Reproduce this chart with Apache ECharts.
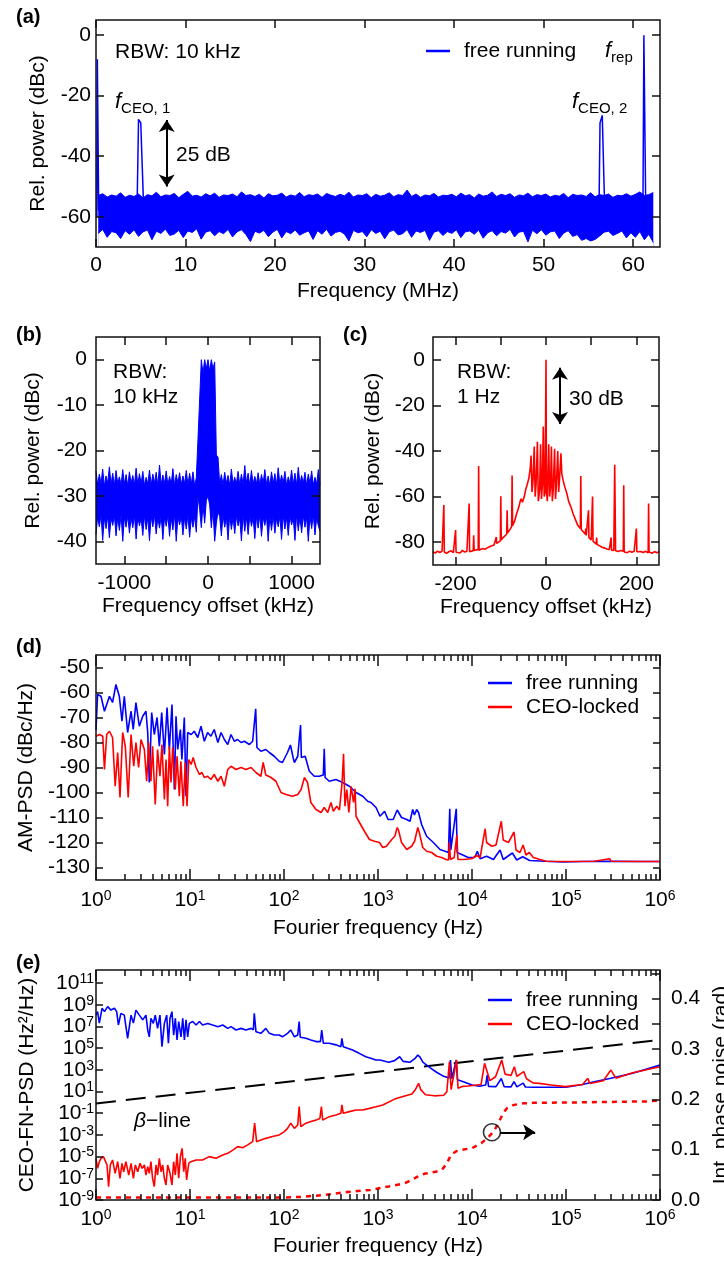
<!DOCTYPE html>
<html><head><meta charset="utf-8">
<script src="https://cdn.jsdelivr.net/npm/echarts@6/dist/echarts.min.js"></script>
<style>html,body{margin:0;padding:0;background:#fff}#c{width:724px;height:1262px}</style>
</head><body><div id="c"></div>
<script>
// ===================== DATA =====================
// (a) RF spectrum, free running (MHz, dBc). Noise floor sampled every 0.5 MHz from 0.25 MHz.
const A_X0 = 0.25, A_DX = 0.5;
const aNoiseTop = [
-53.0,-52.4,-53.5,-52.8,-53.2,-52.1,-53.6,-52.9,-53.3,-52.5,
-53.8,-52.7,-53.1,-51.9,-53.4,-52.8,-53.0,-52.3,-53.7,-52.6,
-51.6,-53.2,-52.9,-53.5,-52.4,-53.1,-52.2,-53.6,-52.8,-53.0,
-52.5,-53.4,-51.8,-53.0,-52.7,-53.3,-52.6,-53.8,-52.4,-53.1,
-52.9,-52.2,-53.5,-52.8,-53.2,-52.0,-53.4,-52.7,-53.0,-52.5,
-53.6,-52.3,-52.9,-53.3,-52.6,-53.1,-51.9,-53.5,-52.8,-53.0,
-52.4,-53.7,-52.6,-53.2,-52.9,-52.1,-53.4,-52.7,-53.0,-51.2,
-53.3,-52.5,-53.6,-52.8,-53.1,-52.3,-53.5,-52.9,-53.0,-52.6,
-53.4,-52.2,-53.1,-52.7,-53.8,-52.5,-53.2,-52.9,-51.8,-53.3,
-52.6,-53.0,-52.4,-53.6,-52.8,-53.1,-52.2,-53.4,-52.7,-53.0,
-52.5,-53.5,-52.9,-53.2,-52.3,-53.7,-52.6,-53.0,-52.8,-53.3,
-52.1,-53.4,-52.7,-53.0,-52.5,-53.6,-52.9,-53.1,-52.4,-53.2,
-52.6,-51.8,-53.0,-52.7,-52.0];
const aNoiseBot = [
-65.5,-64.2,-66.8,-64.9,-65.3,-67.2,-64.6,-65.8,-64.3,-66.5,
-65.0,-64.4,-67.6,-64.8,-65.5,-64.1,-66.2,-65.7,-64.5,-66.9,
-64.7,-65.2,-64.0,-67.4,-65.1,-64.6,-66.3,-64.9,-65.6,-64.2,
-66.7,-65.0,-64.3,-65.9,-68.2,-64.8,-65.4,-64.5,-66.6,-65.1,
-64.2,-67.0,-64.9,-65.6,-64.4,-66.1,-65.3,-64.7,-67.5,-64.6,
-65.8,-64.1,-66.4,-65.2,-64.8,-65.7,-68.0,-64.5,-65.3,-64.9,
-66.6,-64.3,-65.5,-64.8,-67.3,-65.0,-64.4,-66.0,-65.6,-64.2,
-66.8,-64.7,-65.2,-64.5,-67.8,-65.1,-64.6,-66.2,-64.9,-65.5,
-64.3,-66.9,-65.0,-64.7,-65.8,-64.4,-67.1,-65.3,-64.6,-66.3,
-64.9,-65.4,-64.2,-66.7,-65.1,-64.8,-68.3,-64.5,-65.6,-64.3,
-66.1,-65.0,-64.7,-67.2,-65.4,-64.6,-66.5,-65.9,-67.8,-67.2,
-68.0,-67.5,-66.4,-65.1,-64.8,-66.2,-65.5,-64.7,-67.0,-65.3,
-66.8,-64.9,-67.6,-65.8,-68.5];
const aDcX = [0.1, 0.15, 0.22, 0.3],            aDcY = [-60, -8, -8, -58];
const aCeo1X = [4.6, 4.75, 4.9, 5.0, 5.2, 5.3],  aCeo1Y = [-55, -27.8, -27.8, -29, -29, -55];
const aCeo2X = [56.2, 56.3, 56.45, 56.55, 56.7, 56.8], aCeo2Y = [-55, -29, -29, -26.5, -26.5, -55];
const aRepX = [61.1, 61.2, 61.3, 61.4],          aRepY = [-55, 0, 0, -55];
const aXTicks = [0, 10, 20, 30, 40, 50, 60];
const aYTicks = [-60, -40, -20, 0];
const aArrow = [7.9, -28, -50];   // x, y-start, y-end (25 dB marker)

// (b) beat note, 10 kHz RBW (kHz, dBc); sampled every 20 kHz from -1340 kHz
const B_X0 = -1340, B_DX = 20;
const bTop = [
-24.5,-27.6,-25.2,-27.3,-24.1,-27.8,-25.6,-27.2,-23.6,-27.5,
-25.0,-27.7,-24.4,-27.3,-25.8,-27.6,-24.2,-27.4,-25.3,-27.8,
-24.7,-27.2,-25.5,-27.6,-23.9,-27.5,-25.1,-27.3,-24.6,-27.7,
-25.9,-27.4,-24.3,-27.6,-25.2,-27.2,-24.8,-27.8,-23.2,-27.5,
-25.4,-27.3,-24.5,-27.6,-25.7,-27.4,-24.0,-27.7,-25.3,-27.2,
-24.9,-27.5,-25.6,-27.3,-24.4,-27.6,-25.0,-27.4,-24.7,-27.8,
-26.0,
-17.5,-17.8,0,-3,0,-2,0,-2.5,0,-2,-0.5,-21,-21.5,
-27.4,-25.3,-27.6,-24.8,-27.2,-25.5,-27.7,-24.1,-27.4,-25.9,
-27.3,-24.6,-27.6,-25.2,-27.5,-23.3,-27.2,-25.0,-27.7,-24.4,
-27.4,-25.7,-27.3,-24.9,-27.6,-25.3,-27.2,-24.2,-27.5,-25.6,
-27.8,-24.7,-27.3,-25.1,-27.6,-23.8,-27.4,-25.4,-27.2,-24.6,
-27.7,-25.8,-27.3,-24.3,-27.5,-25.0,-27.6,-23.7,-27.4,-25.5,
-27.2,-24.8,-27.7,-25.2,-27.3,-24.5,-27.6,-25.9,-27.4,-24.2,
-27.5];
const bBot = [
-38.5,-34.6,-36.8,-34.2,-39.8,-34.8,-37.2,-34.4,-39.2,-34.9,
-36.5,-34.3,-38.8,-34.7,-37.6,-34.1,-40.0,-34.6,-36.9,-34.4,
-38.2,-34.8,-37.0,-34.2,-39.5,-34.6,-36.6,-34.9,-38.7,-34.3,
-37.4,-34.7,-39.9,-34.5,-36.8,-34.2,-38.4,-34.8,-37.1,-34.4,
-39.6,-34.6,-36.7,-34.3,-38.9,-34.9,-37.5,-34.1,-40.0,-34.6,
-36.4,-34.4,-38.6,-34.7,-37.3,-34.2,-39.1,-34.8,-36.9,-34.5,
-38.0,
-30,-33,-37,-32,-36,-31,-30,-32,-37,-33,-40,-36,-33.5,
-34.6,-38.8,-34.3,-36.9,-34.7,-39.7,-34.2,-37.4,-34.8,-38.3,
-34.4,-36.6,-34.9,-39.9,-34.1,-37.8,-34.6,-38.5,-34.3,-36.7,
-34.8,-39.4,-34.5,-37.1,-34.2,-38.9,-34.7,-36.5,-34.4,-40.0,
-34.6,-37.6,-34.3,-38.2,-34.9,-36.8,-34.5,-39.6,-34.2,-37.3,
-34.7,-38.7,-34.4,-36.4,-34.8,-39.8,-34.1,-37.7,-34.6,-38.1,
-34.3,-36.9,-34.7,-40.0,-34.5,-37.2,-34.2,-38.6,-34.8,-36.6,
-37.8];
const bXTicks = [-1000, -500, 0, 500, 1000], bXLabels = [-1000, 0, 1000];
const bYTicks = [-40, -30, -20, -10, 0];

// (c) CEO-locked beat note, 1 Hz RBW (kHz, dBc)
const cX = [-250,-245,-240,-235,-230,-227,-226,-225,-220,-215,
-210,-205,-201,-200,-199,-195,-190,-185,-180,-175,
-171,-170,-169,-165,-161,-160,-159,-155,-150,-149,
-148,-145,-140,-135,-130,-125,-120,-115,-111,-110,
-109,-105,-101,-100,-99,-95,-91,-87,-86,-85,
-80,-76,-75,-74,-70,-65,-60,-57,-55,-52,
-48,-45,-42,-38,-35,-33,-31,-29,-26,-24,
-22,-19,-17,-14,-12,-10,-8,-6,-4,-2,
0,1,3,6,8,10,12,14,16,19,
21,23,26,28,30,33,35,38,42,46,
50,55,60,65,70,76,77,78,83,87,
88,89,93,94,95,100,102,103,104,108,
111,112,113,118,124,130,135,140,143,144,
145,150,152,154,160,165,171,172,173,180,
185,190,195,199,200,201,205,210,215,220,
226,227,228,235,240,245,250];
const cY = [-84.2,-84.8,-83.9,-84.5,-84.0,-84.6,-63.7,-84.3,-84.9,-84.2,
-83.8,-84.6,-84.1,-74.7,-84.4,-84.0,-84.7,-83.6,-84.3,-84.0,
-83.8,-63.0,-84.2,-83.5,-83.7,-77.0,-83.6,-83.9,-83.2,-46.6,
-83.5,-83.4,-82.8,-83.1,-82.5,-82.0,-81.6,-81.2,-80.8,-77.7,
-80.5,-80.0,-79.4,-59.8,-79.0,-78.0,-77.5,-76.5,-66.0,-76.0,
-74.5,-73.2,-50.8,-72.8,-71.0,-67.5,-64.5,-62.0,-61.0,-62.5,
-60.0,-57.0,-55.0,-52.0,-48.0,-42.0,-58.0,-54.0,-38.0,-60.0,
-55.0,-36.0,-62.0,-57.0,-37.0,-61.0,-55.0,-29.3,-60.0,-58.0,
0,-58.0,-62.0,-37.0,-60.0,-56.0,-38.0,-62.0,-57.0,-39.0,
-61.0,-55.0,-40.0,-58.0,-52.0,-41.0,-50.0,-53.0,-56.0,-58.5,
-62.0,-64.5,-67.5,-70.0,-72.5,-74.0,-51.0,-74.5,-75.5,-76.5,
-74.0,-77.0,-77.5,-66.0,-78.0,-79.0,-79.2,-60.0,-79.5,-80.3,
-80.8,-78.0,-81.0,-81.5,-82.2,-82.6,-83.0,-83.3,-83.4,-78.0,
-83.5,-83.6,-46.0,-83.7,-84.1,-83.6,-84.0,-55.0,-84.3,-84.6,
-83.9,-84.4,-84.0,-84.5,-74.0,-84.2,-84.8,-84.1,-84.5,-84.0,
-84.6,-63.0,-84.3,-84.8,-84.1,-84.6,-84.2];
const cXTicks = [-200, -100, 0, 100, 200], cXLabels = [-200, 0, 200];
const cYTicks = [-80, -60, -40, -20, 0];
const cArrow = [31, -3.5, -28.2];

// (d) AM-PSD (Hz, dBc/Hz)
const dBlueF = [1,1.04,1.13,1.23,1.39,1.5,1.63,1.77,1.89,2.0,
2.17,2.36,2.49,2.66,2.89,3.14,3.4,3.55,3.69,3.91,
4.17,4.46,4.72,5.0,5.34,5.7,6.03,6.43,6.82,7.1,
7.4,7.9,8.2,8.7,9.07,9.45,10.3,11.1,12.1,13.1,
14.2,15.4,16.7,18.1,19.8,21.4,23.2,25.2,27.3,29.6,
32.1,34.9,37.9,42.8,46.4,48.3,50,51.5,56.8,64.1,
69.8,78.7,88.9,96.3,109,117,125,129,140,147,
150,153,168,186,210,237,262,268,274,303,
357,420,496,584,688,777,842,953,1050,1175,
1280,1450,1600,1680,1780,2020,2190,2340,2440,2580,
2700,2910,3290,3880,4570,5160,5620,5800,5950,6220,
6800,6950,7760,9120,10700,11400,12200,14300,16900,19900,
21500,26900,29900,34600,41000,60000,93000,150000,300000,600000,
1000000];
const dBlue = [-75,-60.8,-61.5,-67.5,-61.5,-64,-56.8,-61.5,-71.5,-61.5,
-76,-67.5,-74.8,-64,-73.5,-69.5,-67.5,-76,-96,-68,
-76.8,-70,-81.5,-68,-84.8,-66,-82.8,-64.8,-98.8,-69.5,
-82.8,-74.8,-86.8,-70,-101.5,-76,-76.8,-75.5,-78,-73.5,
-79.5,-76,-77.5,-74.8,-80,-76,-78.8,-80.8,-76.8,-79.5,
-78.8,-80,-79.5,-80.8,-79.5,-80,-66.5,-82,-83.5,-82.8,
-84,-85.5,-87.5,-88,-84,-81,-86,-88,-85.5,-85,
-73,-86,-85.5,-91.5,-93.5,-93.5,-93,-82.5,-94,-95.5,
-94.8,-96,-97.5,-100,-101.5,-103.5,-104,-106,-109.5,-107.5,
-110.8,-110.8,-107,-106.8,-110,-110.8,-111.5,-106.8,-109,-106.8,
-108,-112.8,-117.5,-120,-122.8,-123.5,-124,-106.5,-123,-122.8,
-106.5,-124,-124.8,-126,-126,-123.5,-126.5,-125.5,-126.8,-123,
-126.8,-124.2,-127,-125.7,-127.2,-127.5,-127.8,-127.6,-127.5,-127.6,
-127.6];
const dRedF = [1,1.09,1.18,1.23,1.3,1.39,1.5,1.6,1.7,1.8,
1.92,2.05,2.2,2.36,2.52,2.66,2.84,3.01,3.27,3.46,
3.63,3.84,4.0,4.27,4.52,4.79,5.03,5.34,5.56,5.79,
6.03,6.28,6.55,6.98,7.28,7.7,8.0,8.48,8.9,9.3,
9.7,10.3,10.8,11.6,12.6,13.4,14.2,15.4,16.7,18.1,
19.8,21.4,23.2,25.2,27.3,30.9,34.9,39.4,44.6,50.3,
56.8,60,64,72.8,82,92.9,105,123,140,152,
165,178,193,219,248,268,292,316,335,364,
389,415,430,445,466,490,518,549,570,584,
635,717,811,917,1038,1123,1230,1400,1510,1600,
1650,1780,2020,2280,2450,2650,2750,2990,3290,3720,
4210,4750,5290,5620,5750,5890,6460,6900,7080,8070,
9900,11200,12200,13800,14300,16200,18000,20500,21500,24400,
28000,29400,32400,35000,37500,40700,44900,52800,62000,93000,
200000,293000,300000,600000,1000000];
const dRed = [-77.5,-76.8,-77.5,-90.8,-76.8,-75.5,-78,-97.5,-84,-102,
-76,-81.5,-102,-76.8,-89.5,-80,-90,-78.8,-82.8,-95.5,
-80,-95.5,-81.5,-104.8,-82.8,-93.5,-80.8,-102.8,-86.8,-105.5,
-81.5,-96,-82,-98.8,-85.5,-101.5,-87.5,-105.5,-88,-105.5,
-86.8,-88.8,-86,-90,-92.8,-92,-94,-93.5,-94.8,-92.8,
-95.5,-93.5,-97.5,-90.8,-89.5,-90.8,-90,-90.8,-90,-92,
-93.5,-88,-93,-94,-95.5,-100,-100.8,-101.5,-100.8,-98.8,
-94,-96,-104,-106.8,-108,-106,-108,-104,-107.5,-105.5,
-107,-96,-84.5,-105.5,-98.8,-108,-97.5,-104,-98.5,-109.5,
-112,-115.5,-118.8,-119.5,-120,-122,-121.5,-118.8,-117.5,-114,
-115,-120,-122.8,-121.5,-119.5,-114,-116,-122,-123.5,-124,
-125.5,-126,-126.8,-127,-120,-126.8,-126,-117,-126.8,-126.8,
-126.5,-125.2,-126,-114.5,-120,-121.5,-121,-111.5,-119,-120,
-115.8,-123,-124,-121,-125,-124,-126,-126.8,-127.5,-127.6,
-127.5,-126.5,-127.5,-127.6,-127.6];
const dYTicks = [-130, -120, -110, -100, -90, -80, -70, -60, -50];

// (e) CEO frequency-noise PSD (Hz, Hz^2/Hz) and integrated phase noise (rad)
const eBlueF = [1,1.04,1.085,1.16,1.23,1.33,1.44,1.57,1.66,1.73,
1.84,2.0,2.17,2.36,2.5,2.66,2.89,3.14,3.4,3.55,
3.69,3.84,4.07,4.27,4.52,4.79,5.03,5.34,5.65,5.89,
6.13,6.43,6.7,6.98,7.28,7.58,8.03,8.37,8.72,9.07,
9.45,9.84,10.7,11.6,12.6,13.6,15.4,17.4,19.8,22.3,
25.2,27.3,30.9,34.9,39.4,44.6,47.2,48.3,50.3,56.8,
64.1,69.8,78.7,88.9,96.3,109,118,129,140,143,
145,149,171,193,219,244,252,262,303,357,
403,413,427,475,536,631,742,839,948,1050,
1300,1500,1700,1850,2200,2500,2650,2800,3000,3600,
4200,5000,5700,5900,6100,6800,7000,8100,10000,12000,
14000,14500,15000,18000,20500,22000,26000,28000,30000,35000,
37000,45000,60000,100000,150000,200000,300000,500000,1000000];
const eBlue = [1.1e8,2.3e8,2e7,4.7e8,2.3e8,6.6e8,3.2e8,4.7e8,2.3e8,1.35e7,
1.6e8,1.1e8,8e5,1.1e8,2e7,3.2e8,1.1e8,4e7,1.1e8,4.7e6,
1.1e6,5.6e7,1.9e7,1.1e8,6.6e6,1.1e8,1.35e5,1.9e7,1.1e8,2.8e5,
5.6e7,2.3e8,1.6e6,5.6e7,5.6e5,2.8e7,1.1e6,5.6e7,5.6e5,4e7,
1.1e6,1.9e7,2.8e7,1.35e7,2.8e7,1.35e7,1.9e7,1.35e7,9.5e6,1.35e7,
6.6e6,9.5e6,4.7e6,6.6e6,4.7e6,6.6e6,5e6,1.6e8,3.3e6,2.3e6,
6.6e6,2.3e6,1.6e6,1.6e6,1.1e6,2.3e6,4.7e6,1.1e6,1.6e6,1.6e6,
2.8e7,1e6,8e5,5.6e5,4e5,4e5,4.7e6,2.8e5,2.8e5,2e5,
1.35e5,8e5,1.35e5,9.5e4,6.8e4,3.3e4,1.6e4,1.15e4,8e3,8e3,
5e3,7e3,1.6e4,6e3,5e3,1.2e4,2.3e4,1.5e4,5e3,1.5e3,
600,250,180,8e3,150,8e3,120,80,40,30,
40,330,30,28,160,28,27,80,27,60,
26,25,25,25,45,80,170,450,2700];
const eRedF = [1,1.04,1.085,1.13,1.2,1.26,1.31,1.36,1.42,1.5,
1.6,1.7,1.8,1.89,1.97,2.08,2.23,2.36,2.5,2.62,
2.78,2.94,3.09,3.27,3.4,3.55,3.69,3.84,4.0,4.17,
4.35,4.52,4.72,4.92,5.12,5.34,5.56,5.79,6.13,6.43,
6.7,6.98,7.28,7.58,7.9,8.24,8.58,8.9,9.2,9.7,
10.2,11.6,13.6,16.0,18.9,22.3,25.2,28.5,32.1,36.3,
41.1,46.4,48.7,51.1,56.8,64.1,75.5,88.9,101,109,
118,129,140,145,151,171,193,219,241,250,
258,303,357,403,413,427,496,584,688,811,
953,1123,1500,1800,2300,2500,2700,2850,3200,4000,
5000,5400,5750,6000,6850,7100,8000,9100,12500,13600,
15500,17800,20700,22500,26000,28200,30000,35500,38000,45000,
52000,69000,98000,150000,170000,180000,250000,300000,340000,500000,
1000000];
const eRed = [7e-6,8.3e-7,3.4e-6,7e-6,1e-5,7e-6,1.7e-6,1.7e-8,1.7e-6,4.9e-6,
2.9e-7,3.4e-6,1e-7,2.4e-6,4e-7,3.4e-6,2e-7,2.4e-6,1e-7,1.7e-6,
4e-7,2.4e-6,8.3e-7,1.7e-6,2e-7,1.2e-6,2.9e-7,3.4e-6,1e-7,1.7e-8,
1.7e-6,2e-7,7e-6,4e-7,1.7e-6,1e-7,2.4e-8,1.7e-6,2.9e-7,2.4e-8,
3.4e-6,2e-7,2e-5,1e-7,1e-5,5.8e-5,4e-7,7e-6,7e-8,2.4e-6,
3.4e-6,4.9e-6,4.9e-6,1e-5,7e-6,1.4e-5,2e-5,4e-5,8.3e-5,6.6e-5,
1.2e-4,2.4e-4,1.2e-2,2.4e-4,3.4e-4,4.8e-4,7e-4,1e-3,2e-3,4e-3,
1.2e-2,4e-3,8.3e-3,0.4,5.8e-3,1.2e-2,1.7e-2,2.3e-2,3.3e-2,0.4,
2.3e-2,4.8e-2,6.9e-2,9.8e-2,0.58,9.8e-2,0.14,0.2,0.2,0.28,
0.4,0.58,2,3.3,6,15,56,15,5,4,
4.5,9.5,5600,15,8000,20,30,32,45,4000,
100,230,8000,400,300,1950,250,680,150,60,
56,40,28,45,160,55,100,950,170,500,
1900];
const eBetaF = [1, 1000000], eBeta = [0.8, 5.6e5];
const eIntF = [1,10,50,100,150,270,470,830,1300,1900,2300,2600,3100,4100,4800,5400,6000,6800,7900,10000,12600,15100,17000,19000,21400,23400,28000,35000,45000,138000,760000,1000000];
const eInt = [0.005,0.005,0.005,0.005,0.006,0.01,0.016,0.02,0.027,0.033,0.04,0.046,0.052,0.056,0.06,0.073,0.09,0.097,0.1,0.103,0.113,0.126,0.136,0.152,0.172,0.182,0.189,0.192,0.193,0.194,0.196,0.198];
const eYExpLabels = [-9, -7, -5, -3, -1, 1, 3, 5, 7, 9, 11];
const eRightTicks = [0, 0.05, 0.1, 0.15, 0.2, 0.25, 0.3, 0.35, 0.4, 0.45];
const eRightLabels = [0, 0.1, 0.2, 0.3, 0.4];
const eMarker = [1.63e4, 0.1346];
const eArrow = [2.0e4, 4.7e4, 0.1346];
const decadeLabels = [0, 1, 2, 3, 4, 5, 6];

// ===================== BUILD =====================
const FONT = '"Liberation Sans", Arial, Helvetica, sans-serif';
const FS = 21;
const BLUE = '#0000ff', RED = '#ff0000', INK = '#111111';
const TICK = { color: INK, width: 1.5 };
const minorDecTicks = [];
for (let n = 0; n < 6; n++) for (let k = 2; k <= 9; k++) minorDecTicks.push(n + Math.log10(k));
const aX = aNoiseTop.map((_, i) => A_X0 + i * A_DX);
const bX = bTop.map((_, i) => B_X0 + i * B_DX);
const SUP = {
  b: { fontFamily: FONT, fontSize: FS, lineHeight: 22, color: '#000' },
  s: { fontFamily: FONT, fontSize: 14, lineHeight: 8, verticalAlign: 'top', color: '#000' }
};
const supFmt = v => '{b|10}{s|' + v + '}';

function vAxis(o) {
  const ax = {
    type: 'value', gridIndex: o.g, position: o.pos, min: o.min, max: o.max,
    splitLine: { show: false },
    axisLine: { show: false, onZero: false },
    axisTick: { show: true, inside: true, length: o.len || 8, customValues: o.ticks, lineStyle: TICK },
    axisLabel: { show: false },
    z: 10
  };
  if (o.labels) ax.axisLabel = {
    show: true, customValues: o.labels, formatter: o.fmt || (v => String(v)),
    showMinLabel: true, showMaxLabel: true, hideOverlap: false,
    margin: o.margin, color: '#000', fontFamily: FONT, fontSize: FS, rich: o.rich
  };
  if (o.name) Object.assign(ax, {
    name: o.name, nameLocation: 'middle', nameGap: o.nameGap, nameRotate: o.nameRotate,
    nameTextStyle: { fontFamily: FONT, fontSize: FS, color: '#000' }
  });
  return ax;
}
function logAxis(g, min, max) {
  return { type: 'log', logBase: 10, gridIndex: g, min, max, show: false, axisLine: { onZero: false } };
}
function line(name, xi, yi, xs, ys, color, width, extra) {
  return Object.assign({
    type: 'line', name, xAxisIndex: xi, yAxisIndex: yi,
    data: xs.map((x, i) => [x, ys[i]]),
    symbol: 'none', showSymbol: false, color,
    lineStyle: { color, width }, silent: true, z: 4
  }, extra || {});
}
function arrowMark(p1, p2, both) {
  return {
    silent: true, symbol: both ? ['arrow', 'arrow'] : ['none', 'arrow'], symbolSize: 12,
    lineStyle: { color: '#000', width: 2, type: 'solid' }, label: { show: false },
    emphasis: { disabled: true }, animation: false,
    data: [[{ coord: p1 }, { coord: p2 }]]
  };
}
function txt(x, y, text, extra) {
  return { type: 'text', x, y, z: 30, silent: true,
    style: Object.assign({ text, fill: '#000', fontFamily: FONT, fontSize: FS, align: 'left', verticalAlign: 'middle' }, extra || {}) };
}
function subTxt(x, y, main, sub) {
  return txt(x, y, '{f|' + main + '}{s|' + sub + '}', {
    rich: {
      f: { fontFamily: FONT, fontSize: 22, fontStyle: 'italic', lineHeight: 28, fill: '#000' },
      s: { fontFamily: FONT, fontSize: 15, lineHeight: 14, verticalAlign: 'bottom', fill: '#000' }
    }
  });
}
const gridBase = { show: true, borderColor: INK, borderWidth: 1.5, backgroundColor: 'transparent', containLabel: false, outerBoundsMode: 'none', z: 6 };
const legendBase = {
  orient: 'vertical', icon: 'rect', itemWidth: 24, itemHeight: 2.5, itemGap: 0, padding: 0,
  selectedMode: false,
  textStyle: { fontFamily: FONT, fontSize: FS, color: '#000', lineHeight: 24, padding: [0, 0, 0, 9] }
};

const option = {
  animation: false,
  backgroundColor: '#fff',
  textStyle: { fontFamily: FONT },
  grid: [
    Object.assign({ left: 96, top: 20, width: 564, height: 227 }, gridBase),
    Object.assign({ left: 96, top: 337, width: 224, height: 227 }, gridBase),
    Object.assign({ left: 433, top: 337, width: 226, height: 228 }, gridBase),
    Object.assign({ left: 96, top: 655, width: 564, height: 225 }, gridBase),
    Object.assign({ left: 96, top: 970, width: 564, height: 230 }, gridBase)
  ],
  legend: [
    Object.assign({ data: ['free running'], left: 426, top: 39 }, legendBase),
    Object.assign({ data: ['free running', 'CEO-locked'], left: 488, top: 671 }, legendBase),
    Object.assign({ data: ['free running', 'CEO-locked'], left: 488, top: 988 }, legendBase)
  ],
  xAxis: [
    // (a) 0,1
    vAxis({ g: 0, pos: 'bottom', min: 0, max: 63, ticks: aXTicks, labels: aXTicks, margin: 8, name: 'Frequency (MHz)', nameGap: 34 }),
    vAxis({ g: 0, pos: 'top', min: 0, max: 63, ticks: aXTicks }),
    // (b) 2,3
    vAxis({ g: 1, pos: 'bottom', min: -1340, max: 1340, ticks: bXTicks, labels: bXLabels, margin: 9, name: 'Frequency offset (kHz)', nameGap: 32 }),
    vAxis({ g: 1, pos: 'top', min: -1340, max: 1340, ticks: bXTicks }),
    // (c) 4,5
    vAxis({ g: 2, pos: 'bottom', min: -250, max: 250, ticks: cXTicks, labels: cXLabels, margin: 9, name: 'Frequency offset (kHz)', nameGap: 32 }),
    vAxis({ g: 2, pos: 'top', min: -250, max: 250, ticks: cXTicks }),
    // (d) 6 data(log), 7-10 decorations
    logAxis(3, 1, 1e6),
    vAxis({ g: 3, pos: 'bottom', min: 0, max: 6, ticks: decadeLabels, labels: decadeLabels, fmt: supFmt, rich: SUP, margin: 9, len: 11, name: 'Fourier frequency (Hz)', nameGap: 38 }),
    vAxis({ g: 3, pos: 'bottom', min: 0, max: 6, ticks: minorDecTicks, len: 6 }),
    vAxis({ g: 3, pos: 'top', min: 0, max: 6, ticks: decadeLabels, len: 11 }),
    vAxis({ g: 3, pos: 'top', min: 0, max: 6, ticks: minorDecTicks, len: 6 }),
    // (e) 11 data(log), 12-15 decorations
    logAxis(4, 1, 1e6),
    vAxis({ g: 4, pos: 'bottom', min: 0, max: 6, ticks: decadeLabels, labels: decadeLabels, fmt: supFmt, rich: SUP, margin: 8, len: 11, name: 'Fourier frequency (Hz)', nameGap: 36 }),
    vAxis({ g: 4, pos: 'bottom', min: 0, max: 6, ticks: minorDecTicks, len: 6 }),
    vAxis({ g: 4, pos: 'top', min: 0, max: 6, ticks: decadeLabels, len: 11 }),
    vAxis({ g: 4, pos: 'top', min: 0, max: 6, ticks: minorDecTicks, len: 6 })
  ],
  yAxis: [
    // (a) 0,1
    vAxis({ g: 0, pos: 'left', min: -70, max: 5, ticks: aYTicks, labels: aYTicks, margin: 5, name: 'Rel. power (dBc)', nameGap: 47 }),
    vAxis({ g: 0, pos: 'right', min: -70, max: 5, ticks: aYTicks }),
    // (b) 2,3
    vAxis({ g: 1, pos: 'left', min: -45, max: 5, ticks: bYTicks, labels: bYTicks, margin: 9, name: 'Rel. power (dBc)', nameGap: 52 }),
    vAxis({ g: 1, pos: 'right', min: -45, max: 5, ticks: bYTicks }),
    // (c) 4,5
    vAxis({ g: 2, pos: 'left', min: -90, max: 10, ticks: cYTicks, labels: cYTicks, margin: 8, name: 'Rel. power (dBc)', nameGap: 49 }),
    vAxis({ g: 2, pos: 'right', min: -90, max: 10, ticks: cYTicks }),
    // (d) 6,7
    vAxis({ g: 3, pos: 'left', min: -135, max: -45, ticks: dYTicks, labels: dYTicks, margin: 6, len: 7, name: 'AM-PSD (dBc/Hz)', nameGap: 54 }),
    vAxis({ g: 3, pos: 'right', min: -135, max: -45, ticks: dYTicks, len: 7 }),
    // (e) 8 data(log), 9 left labels, 10 right axis (rad)
    { type: 'log', logBase: 10, gridIndex: 4, min: 1e-9, max: Math.pow(10, 12.2), show: false, axisLine: { onZero: false } },
    vAxis({ g: 4, pos: 'left', min: -9, max: 12.2, ticks: eYExpLabels, labels: eYExpLabels, fmt: supFmt, rich: SUP, margin: 2, len: 7, name: 'CEO-FN-PSD (Hz²/Hz)', nameGap: 58 }),
    vAxis({ g: 4, pos: 'right', min: 0, max: 0.457, ticks: eRightTicks, labels: eRightLabels, fmt: v => v.toFixed(1), margin: 11, len: 8, name: 'Int. phase noise (rad)', nameGap: 41, nameRotate: 90 })
  ],
  series: [
    // (a)
    line('free running', 0, 0, aX, aNoiseTop, BLUE, 1, { areaStyle: { color: BLUE, opacity: 1, origin: 'start' }, z: 2 }),
    line('_aFloor', 0, 0, aX, aNoiseBot, BLUE, 1, { areaStyle: { color: '#fff', opacity: 1, origin: 'start' }, z: 3 }),
    line('_aDc', 0, 0, aDcX, aDcY, BLUE, 1.5),
    line('_aCeo1', 0, 0, aCeo1X, aCeo1Y, BLUE, 1.5),
    line('_aCeo2', 0, 0, aCeo2X, aCeo2Y, BLUE, 1.5),
    line('_aRep', 0, 0, aRepX, aRepY, BLUE, 1.5, { markLine: arrowMark([aArrow[0], aArrow[1]], [aArrow[0], aArrow[2]], true) }),
    // (b)
    line('_bTop', 2, 2, bX, bTop, BLUE, 1, { areaStyle: { color: BLUE, opacity: 1, origin: 'start' }, z: 2 }),
    line('_bBot', 2, 2, bX, bBot, BLUE, 1, { areaStyle: { color: '#fff', opacity: 1, origin: 'start' }, z: 3 }),
    // (c)
    line('_cLocked', 4, 4, cX, cY, RED, 1.6, { markLine: arrowMark([cArrow[0], cArrow[1]], [cArrow[0], cArrow[2]], true) }),
    // (d)
    line('free running', 6, 6, dBlueF, dBlue, BLUE, 1.6),
    line('CEO-locked', 6, 6, dRedF, dRed, RED, 1.6),
    // (e)
    line('free running', 11, 8, eBlueF, eBlue, BLUE, 1.6),
    line('CEO-locked', 11, 8, eRedF, eRed, RED, 1.6),
    line('_beta', 11, 8, eBetaF, eBeta, '#000', 2, { lineStyle: { color: '#000', width: 2, type: [20, 10] }, z: 3 }),
    line('_int', 11, 10, eIntF, eInt, RED, 2.5, {
      lineStyle: { color: RED, width: 2.5, type: [5, 5] },
      markLine: arrowMark([eArrow[0], eArrow[2]], [eArrow[1], eArrow[2]], false)
    }),
    { type: 'scatter', name: '_marker', xAxisIndex: 11, yAxisIndex: 10, data: [eMarker], symbol: 'circle', symbolSize: 17,
      itemStyle: { color: 'rgba(0,0,0,0)', borderColor: '#000', borderWidth: 1.6 }, silent: true, z: 8 }
  ],
  graphic: [
    txt(16, 17, '(a)', { fontWeight: 'bold', fontSize: 20 }),
    txt(115, 52, 'RBW: 10 kHz'),
    subTxt(115, 102, 'f', 'CEO, 1'),
    txt(176, 155, '25 dB'),
    subTxt(572, 102, 'f', 'CEO, 2'),
    subTxt(605, 51, 'f', 'rep'),
    txt(16, 335, '(b)', { fontWeight: 'bold', fontSize: 20 }),
    txt(113, 372, 'RBW:'),
    txt(113, 397, '10 kHz'),
    txt(343, 335, '(c)', { fontWeight: 'bold', fontSize: 20 }),
    txt(457, 372, 'RBW:'),
    txt(457, 397, '1 Hz'),
    txt(569, 399, '30 dB'),
    txt(16, 647, '(d)', { fontWeight: 'bold', fontSize: 20 }),
    txt(16, 963, '(e)', { fontWeight: 'bold', fontSize: 20 }),
    txt(134, 1121, '{g|β}{t|\u2212line}', {
      rich: {
        g: { fontFamily: FONT, fontSize: FS, fontStyle: 'italic', fill: '#000' },
        t: { fontFamily: FONT, fontSize: FS, fill: '#000' }
      }
    })
  ]
};
const chart = echarts.init(document.getElementById('c'), null, { renderer: 'canvas' });
chart.setOption(option);
</script></body></html>
